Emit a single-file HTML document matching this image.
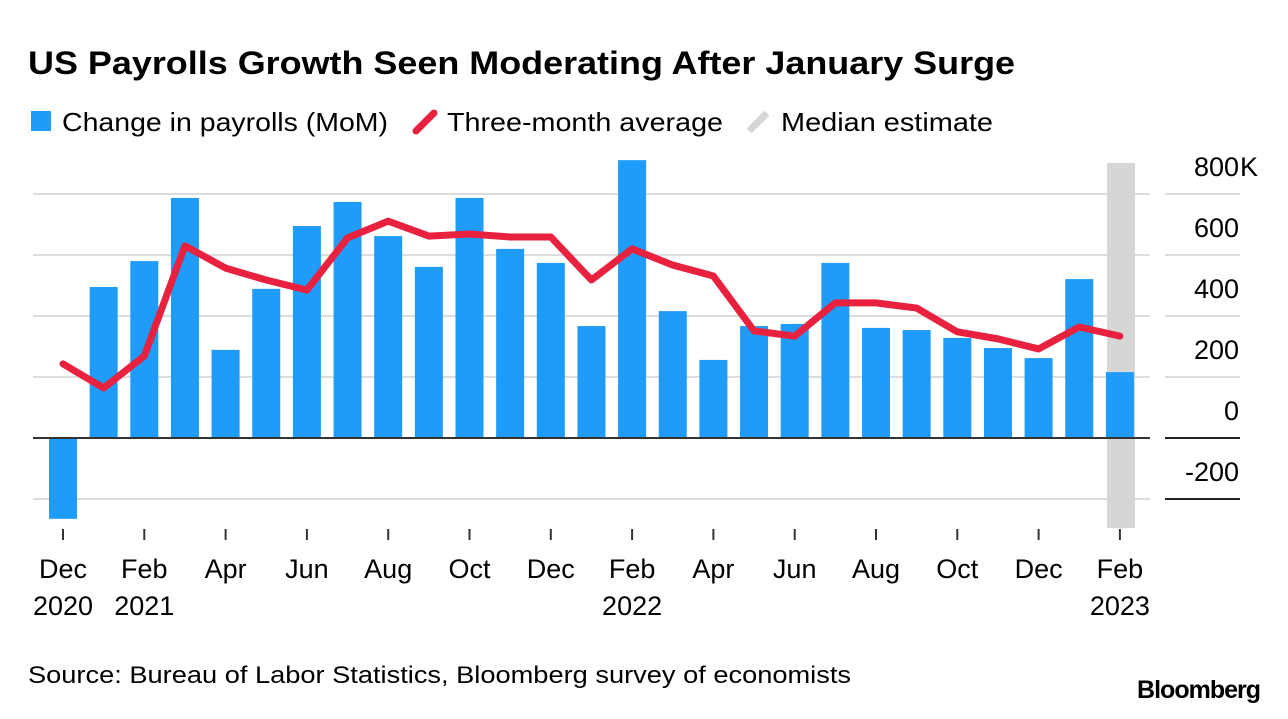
<!DOCTYPE html>
<html><head><meta charset="utf-8"><style>
body{margin:0;background:#fff;width:1288px;height:714px;overflow:hidden;font-family:"Liberation Sans",Arial,sans-serif}
</style></head><body>
<svg width="1288" height="714" font-family="Liberation Sans, Arial, sans-serif">
<text x="28" y="74" font-size="32" font-weight="bold" fill="#000" textLength="987" lengthAdjust="spacingAndGlyphs">US Payrolls Growth Seen Moderating After January Surge</text>
<g>
<rect x="31" y="111" width="20" height="20" fill="#1f9bfa"/>
<text x="62" y="131" font-size="26" fill="#000" textLength="326" lengthAdjust="spacingAndGlyphs">Change in payrolls (MoM)</text>
<line x1="416" y1="131" x2="434" y2="113" stroke="#e8213f" stroke-width="7" stroke-linecap="round"/>
<text x="447" y="131" font-size="26" fill="#000" textLength="276" lengthAdjust="spacingAndGlyphs">Three-month average</text>
<line x1="749" y1="131" x2="767" y2="113" stroke="#d6d6d6" stroke-width="7"/>
<text x="781" y="131" font-size="26" fill="#000" textLength="212" lengthAdjust="spacingAndGlyphs">Median estimate</text>
</g>
<g id="grid"></g>
<rect x="1107" y="163" width="28" height="365" fill="#d6d6d6"/>
<g id="bars"></g>
<g id="line"></g>
<g id="xaxis"></g>
<text x="28" y="683" font-size="24" fill="#000" textLength="823" lengthAdjust="spacingAndGlyphs">Source: Bureau of Labor Statistics, Bloomberg survey of economists</text>
<text x="1260" y="698" font-size="25" font-weight="bold" text-anchor="end" fill="#000" letter-spacing="-1">Bloomberg</text>
</svg>
<script>
const months=["Dec 2020","Jan 2021","Feb 2021","Mar 2021","Apr 2021","May 2021","Jun 2021","Jul 2021","Aug 2021","Sep 2021","Oct 2021","Nov 2021","Dec 2021","Jan 2022","Feb 2022","Mar 2022","Apr 2022","May 2022","Jun 2022","Jul 2022","Aug 2022","Sep 2022","Oct 2022","Nov 2022","Dec 2022","Jan 2023","Feb 2023"];
const payrolls=[-265,495,580,787,289,489,695,774,662,561,787,620,574,367,911,416,256,367,374,574,361,354,328,295,262,521,216];
const avg3=[243,164,269,630,557,518,485,656,711,662,669,659,659,518,620,567,531,351,334,443,443,426,348,325,292,364,334];
const yTicks=[-200,0,200,400,600,800];
const yTickLabels=["-200","0","200","400","600","800"];
const xTickLabels=[["Dec","2020"],["Feb","2021"],["Apr",""],["Jun",""],["Aug",""],["Oct",""],["Dec",""],["Feb","2022"],["Apr",""],["Jun",""],["Aug",""],["Oct",""],["Dec",""],["Feb","2023"]];
const NS="http://www.w3.org/2000/svg";
const y=v=>438-v*0.305;
const x=i=>63+i*40.65;
function mk(t,a,p){const e=document.createElementNS(NS,t);for(const k in a)e.setAttribute(k,a[k]);p.appendChild(e);return e;}
const grid=document.getElementById('grid');
yTicks.forEach((v,i)=>{
 const dark=v<=0;
 const g1=mk('line',{x1:33,x2:1150,y1:y(v),y2:y(v),stroke:'#ddd','stroke-width':2},grid);
 
 
 const g2=mk('line',{x1:1165,x2:1240,y1:y(v),y2:y(v),stroke:dark?'#222':'#ddd','stroke-width':2},grid);
 
 
 const t=mk('text',{x:1239,y:y(v)-18,'font-size':27,'text-anchor':'end',fill:'#000'},grid);
 t.textContent=yTickLabels[i];
 
 
 if(i===yTicks.length-1){
  const k=mk('text',{x:1240,y:y(v)-18,'font-size':27,fill:'#000'},grid);
  k.textContent='K';
  
  
 }
});
const bars=document.getElementById('bars');
payrolls.forEach((v,i)=>{
 const r=mk('rect',{x:x(i)-14,width:28,y:Math.min(y(v),y(0)),height:Math.abs(y(v)-y(0)),fill:'#1f9bfa'},bars);
 
 
});
const zl=mk('line',{x1:33,x2:1150,y1:y(0),y2:y(0),stroke:'#333','stroke-width':2},bars);


const pl=mk('polyline',{points:avg3.map((v,i)=>x(i)+','+y(v)).join(' '),fill:'none',stroke:'#e8213f','stroke-width':7,'stroke-linejoin':'round','stroke-linecap':'round'},document.getElementById('line'));


const xa=document.getElementById('xaxis');
xTickLabels.forEach((l,j)=>{
 const cx=x(j*2);
 const tk=mk('line',{x1:cx,x2:cx,y1:529,y2:540,stroke:'#333','stroke-width':2},xa);
 
 
 const t=mk('text',{x:cx,y:578,'font-size':27,'text-anchor':'middle',fill:'#000'},xa);
 t.textContent=l[0];
 
 
 if(l[1]){const t2=mk('text',{x:cx,y:615,'font-size':27,'text-anchor':'middle',fill:'#000'},xa);
 t2.textContent=l[1];
 
 }
});
</script>
</body></html>
